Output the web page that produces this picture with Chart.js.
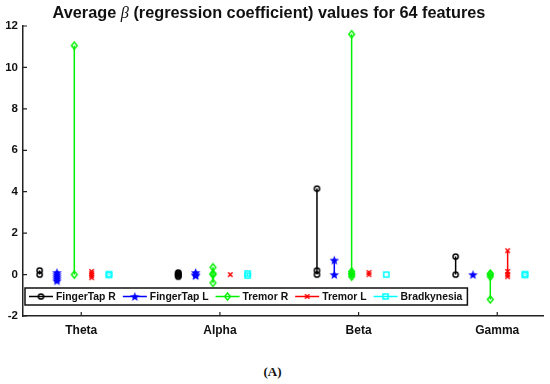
<!DOCTYPE html>
<html lang="en">
<head>
<meta charset="UTF-8" />
<title>Average beta values for 64 features</title>
<script src="https://cdn.jsdelivr.net/npm/chart.js"></script>
<style>
    body { margin: 0; background: #fff; }
    .wrap { position: relative; width: 550px; height: 384px; }
    #grafico { position: absolute; left: 0; top: 0; }
    .caption { position: absolute; left: 0; top: 364px; width: 545px; text-align: center;
               font: bold 13px "Liberation Serif", "Times New Roman", serif; color: #111; }
</style>
</head>
<body>
<div class="wrap">
    <canvas id="grafico" width="550" height="350"></canvas>
    <div class="caption">(A)</div>
</div>

<script>
// categories (x groups) and y ticks
const bands = ['Theta', 'Alpha', 'Beta', 'Gamma'];
const yTicks = [-2, 0, 2, 4, 6, 8, 10, 12];

// average beta values per band, one list per band
const fingerTapR   = [[0.2, 0.0], [0.1, 0.05, 0.0, -0.05, -0.1], [4.15, 0.2, 0.0], [0.87, 0.0]];
const fingerTapL   = [[0.1, 0.0, -0.1, -0.2, -0.3], [0.1, 0.0, -0.05], [0.7, 0.0], [0.0]];
const tremorR      = [[11.05, 0.0], [0.35, 0.05, 0.0, -0.4], [11.6, 0.15, 0.05, 0.0, -0.1], [0.05, 0.0, -0.1, -1.2]];
const tremorL      = [[0.15, 0.05, -0.05, -0.15], [0.0], [0.1, 0.0], [1.15, 0.15, 0.0, -0.1]];
const bradykinesia = [[0.02, -0.02], [0.05, -0.05], [0.0], [0.02, -0.02]];

const seriesNames = ['FingerTap R', 'FingerTap L', 'Tremor R', 'Tremor L', 'Bradkynesia'];
const seriesData  = [fingerTapR, fingerTapL, tremorR, tremorL, bradykinesia];
const seriesColor = ['#000000', '#0000ff', '#00f000', '#ff0000', '#00ffff'];
const seriesMark  = ['circle', 'star', 'diamond', 'cross', 'square'];
const groupOffset = [-0.3, -0.175, -0.05, 0.075, 0.2];

const FONT = '"Liberation Sans", Arial, sans-serif';

// small marker images (matlab style markers)
function marker(type, color) {
    const c = document.createElement('canvas');
    c.width = 13; c.height = 13;
    const g = c.getContext('2d');
    g.strokeStyle = color; g.fillStyle = color; g.lineWidth = 1.5;
    const m = 6.5;
    g.beginPath();
    if (type === 'circle') {
        g.arc(m, m, 2.6, 0, Math.PI * 2);
        g.stroke();
    } else if (type === 'star') {
        for (let i = 0; i < 10; i++) {
            const r = i % 2 === 0 ? 5 : 2.1;
            const a = -Math.PI / 2 + i * Math.PI / 5;
            const px = m + r * Math.cos(a), py = m + 0.5 + r * Math.sin(a);
            i === 0 ? g.moveTo(px, py) : g.lineTo(px, py);
        }
        g.closePath();
        g.fill();
    } else if (type === 'diamond') {
        g.moveTo(m, m - 3.6); g.lineTo(m + 2.8, m); g.lineTo(m, m + 3.6); g.lineTo(m - 2.8, m);
        g.closePath();
        g.stroke();
    } else if (type === 'cross') {
        g.moveTo(m - 2.2, m - 2.2); g.lineTo(m + 2.2, m + 2.2);
        g.moveTo(m + 2.2, m - 2.2); g.lineTo(m - 2.2, m + 2.2);
        g.stroke();
    } else {
        g.rect(m - 2.6, m - 2.6, 5.2, 5.2);
        g.stroke();
    }
    return c;
}

const markImg = seriesMark.map((t, i) => marker(t, seriesColor[i]));

// one dataset per condition, vertical segment per band (null breaks the line)
const datasets = seriesData.map((groups, s) => {
    const pts = [];
    groups.forEach((vals, g) => {
        const x = g + 1 + groupOffset[s];
        vals.slice().sort((a, b) => b - a).forEach(v => pts.push({ x: x, y: v }));
        pts.push({ x: x, y: null });
    });
    return {
        label: seriesNames[s],
        data: pts,
        showLine: true,
        spanGaps: false,
        borderColor: seriesColor[s],
        borderWidth: 1.5,
        pointStyle: markImg[s],
        pointRadius: 4,
        pointHoverRadius: 4
    };
});

// title with italic beta
const titlePlugin = {
    id: 'titulo',
    afterDraw(chart) {
        const ctx = chart.ctx;
        const parts = [
            { t: 'Average ', f: 'bold 16.3px ' + FONT },
            { t: '\u03B2', f: 'italic 16.3px "Liberation Serif", serif' },
            { t: ' (regression coefficient) values for 64 features', f: 'bold 16.3px ' + FONT }
        ];
        ctx.save();
        let w = 0;
        parts.forEach(p => { ctx.font = p.f; p.w = ctx.measureText(p.t).width; w += p.w; });
        let x = 269 - w / 2;
        ctx.fillStyle = '#111';
        ctx.textBaseline = 'middle';
        parts.forEach(p => { ctx.font = p.f; ctx.fillText(p.t, x, 14); x += p.w; });
        ctx.restore();
    }
};

// inward tick marks like matlab
const ticksPlugin = {
    id: 'tickIn',
    afterDraw(chart) {
        const ctx = chart.ctx, a = chart.chartArea;
        ctx.save();
        ctx.strokeStyle = '#222';
        ctx.lineWidth = 1.2;
        ctx.beginPath();
        yTicks.forEach(v => {
            const y = chart.scales.y.getPixelForValue(v);
            ctx.moveTo(a.left, y); ctx.lineTo(a.left + 4, y);
        });
        bands.forEach((b, i) => {
            const x = chart.scales.x.getPixelForValue(i + 1);
            ctx.moveTo(x, a.bottom); ctx.lineTo(x, a.bottom - 4);
        });
        ctx.stroke();
        ctx.restore();
    }
};

// legend box inside the axes, one row
const legendPlugin = {
    id: 'legendaBox',
    afterDatasetsDraw(chart) {
        const ctx = chart.ctx;
        const left = 25, top = 288, h = 17;
        ctx.save();
        ctx.font = 'bold 10.4px ' + FONT;
        let x = left + 4;
        const items = seriesNames.map((n, i) => {
            const it = { sx: x, tx: x + 27, w: ctx.measureText(n).width };
            x = it.tx + it.w + 7;
            return it;
        });
        const right = x - 2;
        ctx.fillStyle = '#fff';
        ctx.fillRect(left, top, right - left, h);
        ctx.strokeStyle = '#111';
        ctx.lineWidth = 1.5;
        ctx.strokeRect(left, top, right - left, h);
        const cy = top + h / 2;
        items.forEach((it, i) => {
            ctx.strokeStyle = seriesColor[i];
            ctx.lineWidth = 1.5;
            ctx.beginPath();
            ctx.moveTo(it.sx, cy); ctx.lineTo(it.sx + 24, cy);
            ctx.stroke();
            ctx.drawImage(markImg[i], it.sx + 12 - 6.5, cy - 6.5);
            ctx.fillStyle = '#111';
            ctx.textBaseline = 'middle';
            ctx.fillText(seriesNames[i], it.tx, cy + 0.5);
        });
        ctx.restore();
    }
};

const ctx = document.getElementById('grafico').getContext('2d');
const grafico = new Chart(ctx, {
    type: 'scatter',
    data: { datasets: datasets },
    plugins: [titlePlugin, ticksPlugin, legendPlugin],
    options: {
        responsive: false,
        animation: false,
        layout: { padding: { top: 26, right: 7, left: 0, bottom: 0 } },
        plugins: {
            legend: { display: false },
            tooltip: { enabled: false }
        },
        scales: {
            x: {
                type: 'linear',
                min: 0.58,
                max: 4.33,
                afterBuildTicks: s => { s.ticks = bands.map((b, i) => ({ value: i + 1 })); },
                afterFit: s => { s.height = 34; },
                grid: { display: false, drawTicks: false },
                border: { display: true, color: '#222', width: 1.5 },
                ticks: {
                    callback: v => bands[v - 1],
                    color: '#111',
                    padding: 7,
                    maxRotation: 0,
                    font: { family: FONT, size: 12, weight: 'bold' }
                }
            },
            y: {
                min: -2,
                max: 12,
                afterBuildTicks: s => { s.ticks = yTicks.map(v => ({ value: v })); },
                afterFit: s => { s.width = 23; },
                grid: { display: false, drawTicks: false },
                border: { display: true, color: '#222', width: 1.5 },
                ticks: {
                    color: '#111',
                    padding: 5,
                    font: { family: FONT, size: 11.5, weight: 'bold' }
                }
            }
        }
    }
});
</script>
</body>
</html>
